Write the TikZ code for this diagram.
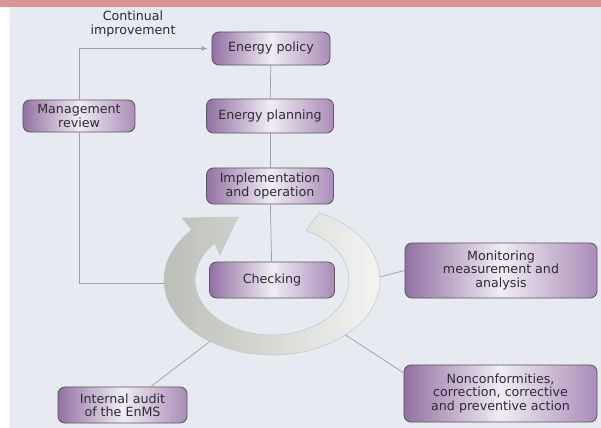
\documentclass[tikz,border=0pt]{standalone}
\usepackage{fontspec}
\setmainfont{DejaVu Sans}
\usetikzlibrary{arrows.meta}
\definecolor{bandpink}{RGB}{217,149,150}
\definecolor{paper}{RGB}{231,234,240}
\definecolor{boxdark}{RGB}{146,112,162}
\definecolor{boxlight}{RGB}{240,236,244}
\definecolor{boxmid}{RGB}{170,140,184}
\definecolor{ringgray}{RGB}{186,191,182}
\definecolor{ringlight}{RGB}{247,248,246}
\definecolor{linegray}{RGB}{158,160,164}
\definecolor{ink}{RGB}{45,45,50}
\tikzset{
  stage/.style={draw=black!65, line width=0.6pt, rounded corners=5pt,
    left color=boxdark, right color=boxmid, middle color=boxlight,
    text=ink, font=\fontsize{9}{9.5}\selectfont, align=center, inner sep=2pt},
  link/.style={draw=linegray, line width=0.5pt},
  ring/.style={left color=ringgray, right color=ringlight, draw=black!22, line width=0.4pt}
}
\begin{document}
\begin{tikzpicture}[x=0.025cm,y=0.025cm]
  \useasboundingbox (0,0) rectangle (601,428);
  \fill[white] (0,0) rectangle (601,421);
  \fill[paper] (10,0) rectangle (601,421);
  \fill[bandpink] (0,421) rectangle (601,428);
  % cycle arrow round the checking box
  \path[ring] (272,148) ++(64:108 and 75)
    arc[start angle=64, end angle=-222, x radius=108, y radius=75]
    -- (182,210) -- (238,211) -- (220,173) -- (214.8,184.8)
    arc[start angle=-222, end angle=64, x radius=77, y radius=55] -- cycle;
  \coordinate (ringW) at (164,145);
  \coordinate (ringE) at (379.8,151);
  \coordinate (ringSW) at (210,86.6);
  \coordinate (ringSE) at (345.6,93);
  \draw
    (271,379.5) node[stage, minimum width=2.95cm, minimum height=0.825cm] (policy) {Energy policy}
    (270,312) node[stage, minimum width=3.175cm, minimum height=0.85cm] (planning) {Energy planning}
    (270,242) node[stage, minimum width=3.175cm, minimum height=0.9cm] (implement) {Implementation\\and operation}
    (272,148) node[stage, minimum width=3.125cm, minimum height=0.9cm] (checking) {Checking}
    (79,312) node[stage, minimum width=2.8cm, minimum height=0.8cm] (review) {Management\\review}
    (501,157.5) node[stage, minimum width=4.8cm, minimum height=1.375cm] (monitor) {Monitoring\\measurement and\\analysis}
    (122.5,23) node[stage, minimum width=3.225cm, minimum height=0.9cm] (audit) {Internal audit\\of the EnMS}
    (500.5,34.5) node[stage, minimum width=4.825cm, minimum height=1.425cm] (noncon) {Nonconformities,\\correction, corrective\\and preventive action}
    (133,404) node[text=ink, font=\fontsize{9}{9.5}\selectfont, align=center] (contlabel) {Continual\\improvement};
  \begin{scope}[link]
    \draw (policy) to (planning);
    \draw (planning) to (implement);
    \draw (implement) to (checking);
    \draw[-{Latex[length=4pt,width=3.5pt]}, shorten >=3pt] (review.north) |- (policy.west);
    \draw (review.south) |- (ringW);
    \draw (ringE) to (monitor.west);
    \draw (ringSW) to (audit.33);
    \draw (ringSE) to (noncon.168);
  \end{scope}
\end{tikzpicture}
\end{document}
